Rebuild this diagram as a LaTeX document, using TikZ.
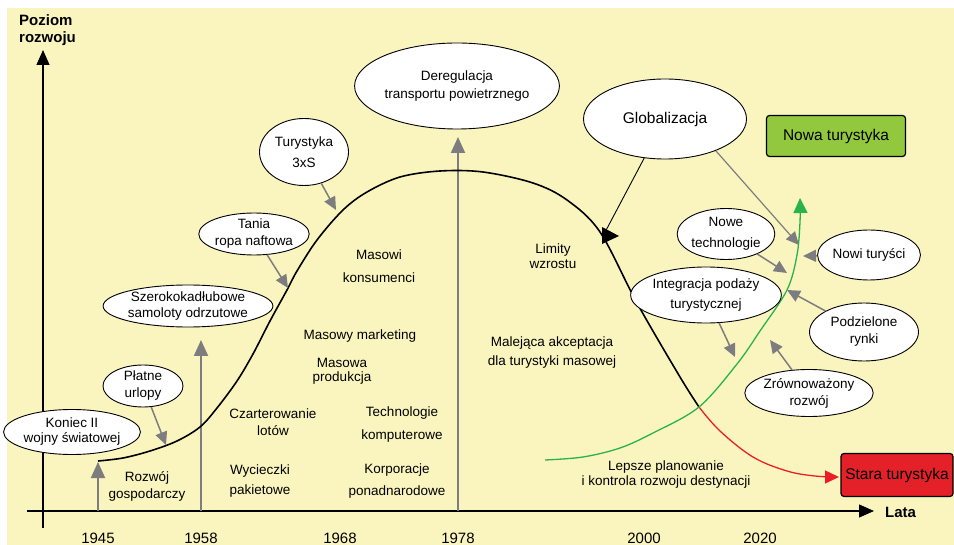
\documentclass[tikz,border=0pt]{standalone}
\usepackage{fontspec}
\setmainfont{Liberation Sans}
\usetikzlibrary{arrows.meta,shapes.geometric}

\definecolor{bgyellow}{RGB}{250,245,190}
\definecolor{arrowgray}{RGB}{125,125,128}
\definecolor{newgreen}{RGB}{146,200,62}
\definecolor{oldred}{RGB}{228,32,40}
\definecolor{curvegreen}{RGB}{40,180,75}
\definecolor{curvered}{RGB}{235,30,40}

\begin{document}
\begin{tikzpicture}[x=1pt,y=-1pt,
  axisline/.style={draw=black,line width=1.2pt,-{Triangle[length=15pt,width=13pt]}},
  yearup/.style={draw=arrowgray,line width=2pt,-{Triangle[length=16pt,width=14pt]}},
  infl/.style={draw=arrowgray,line width=1.5pt,-{Triangle[length=13pt,width=12pt]}},
  bubble/.style={ellipse,draw=black,line width=0.9pt,fill=white,inner sep=0pt,
    align=center,font=\fontsize{13.5}{17}\selectfont},
  lbl/.style={align=center,inner sep=0pt,font=\fontsize{13.5}{17}\selectfont},
  year/.style={anchor=base,inner sep=0pt,font=\fontsize{15}{18}\selectfont},
  axlabel/.style={inner sep=0pt,font=\fontsize{15}{17}\selectfont\bfseries},
  phase/.style={rectangle,rounded corners=3pt,draw=black,line width=1.2pt,
    inner sep=0pt,font=\fontsize{15.5}{18}\selectfont}
]
\useasboundingbox (0,0) rectangle (954,545);
\fill[bgyellow] (7,8) rectangle (954,545);

% axes
\coordinate (xo) at (27,511);
\coordinate (xe) at (874,511);
\coordinate (yo) at (43,528);
\coordinate (ye) at (43,50);
\draw[axisline] (xo) -- (xe);
\draw[axisline] (yo) -- (ye);
\node[axlabel,align=left,anchor=west] (ylab) at (19,30) {Poziom\\rozwoju};
\node[axlabel,anchor=west] (xlab) at (885,512) {Lata};

% years
\node[year] (y1945) at (98,543) {1945};
\node[year] (y1958) at (201,543) {1958};
\node[year] (y1968) at (340,543) {1968};
\node[year] (y1978) at (458,543) {1978};
\node[year] (y2000) at (644,543) {2000};
\node[year] (y2020) at (760,543) {2020};

% milestone arrows rising from the time axis
\coordinate (a45) at (98,511);  \coordinate (t45) at (98,462);
\coordinate (a58) at (201,511); \coordinate (t58) at (201,340);
\coordinate (a78) at (458,511); \coordinate (t78) at (458,137);
\draw[yearup] (a45) -- (t45);
\draw[yearup] (a58) -- (t58);
\draw[yearup] (a78) -- (t78);

% life cycle curve
\coordinate (cross) at (699,407);
\draw[black,line width=1.6pt] plot[smooth,tension=0.55] coordinates {
  (98,461) (123,458) (150,451) (177,441) (200,427) (217,408) (237,381)
  (253,354) (270,321) (287,290) (297,271) (317,240) (343,210) (367,192)
  (400,177) (440,171) (483,172) (533,183) (567,200) (600,232) (637,303)
  (680,377) (699,407)};
\coordinate (oldend) at (839,477);
\draw[curvered,line width=1.3pt,-{Triangle[length=14pt,width=13pt]}]
  plot[smooth,tension=0.6] coordinates {(699,407) (720,431) (753,457) (787,471) (815,476) (839,477)};
\coordinate (newend) at (800,197);
\draw[curvegreen,line width=1.3pt,-{Triangle[length=15pt,width=14pt]}]
  plot[smooth,tension=0.55] coordinates {(545,460) (583,457) (620,448) (653,433)
  (699,407) (737,364) (760,331) (787,290) (797,255) (800,222) (800,198)};

% phase boxes
\node[phase,fill=newgreen,minimum width=139pt,minimum height=41pt] (nowa) at (836,136) {Nowa turystyka};
\node[phase,fill=oldred,minimum width=112pt,minimum height=43pt] (stara) at (897,475) {Stara turystyka};

% factor bubbles
\node[bubble,minimum width=120pt,minimum height=45pt] (koniec) at (72,432) {Koniec II\\[-2pt]wojny światowej};
\node[bubble,minimum width=80pt,minimum height=42pt] (platne) at (143,386) {Płatne\\urlopy};
\node[bubble,minimum width=149pt,minimum height=42pt] (szeroko) at (188,306) {Szerokokadłubowe\\[-1pt]samoloty odrzutowe};
\node[bubble,minimum width=109pt,minimum height=42pt] (tania) at (254,234) {Tania\\ropa naftowa};
\node[bubble,minimum width=89pt,minimum height=67pt] (turyst) at (304,152) {Turystyka\\[4pt]3xS};
\node[bubble,minimum width=161pt,minimum height=86pt] (dereg) at (457,86) {Deregulacja\\[1pt]transportu powietrznego};
\node[bubble,minimum width=163pt,minimum height=80pt,font=\fontsize{15.5}{18}\selectfont] (glob) at (665,119) {Globalizacja};
\node[bubble,minimum width=94pt,minimum height=51pt] (nowetech) at (726,234) {Nowe\\[4pt]technologie};
\node[bubble,minimum width=86pt,minimum height=50pt] (nowi) at (869,255) {Nowi turyści};
\node[bubble,minimum width=133pt,minimum height=56pt] (integr) at (706,295) {Integracja podaży\\[3pt]turystycznej};
\node[bubble,minimum width=109pt,minimum height=58pt] (podziel) at (864,332) {Podzielone\\rynki};
\node[bubble,minimum width=120pt,minimum height=47pt] (zrown) at (809,393) {Zrównoważony\\rozwój};

% influences on the curves
\coordinate (tplatne) at (166,445);
\coordinate (ttania) at (288,288);
\coordinate (tturyst) at (336,210);
\draw[infl] (platne) -- (tplatne);
\draw[infl] (tania) -- (ttania);
\draw[infl] (turyst) -- (tturyst);

\coordinate (gtip) at (603,236);
\draw[black,line width=0.9pt] (glob.242) -- (gtip);
\fill[black] (602,227) -- (602,244) -- (619,236) -- cycle;

\coordinate (gnew) at (799,245);
\draw[infl,line width=1.2pt] (glob.-32) -- (gnew);
\coordinate (tnowetech) at (787,273);
\coordinate (tnowi) at (803,256);
\coordinate (tpodziel) at (787,290);
\coordinate (tintegr) at (735,357);
\coordinate (tzrown) at (770,340);
\draw[infl] (nowetech) -- (tnowetech);
\draw[infl] (nowi) -- (tnowi);
\draw[infl] (podziel) -- (tpodziel);
\draw[infl] (integr) -- (tintegr);
\draw[infl] (zrown) -- (tzrown);

% descriptive labels
\node[lbl] (rozwoj) at (147,486) {Rozwój\\gospodarczy};
\node[lbl] (wyciecz) at (260,481) {Wycieczki\\[3pt]pakietowe};
\node[lbl] (czarter) at (273,422) {Czarterowanie\\lotów};
\node[lbl] (masowi) at (379,266) {Masowi\\[6pt]konsumenci};
\node[lbl] (marketing) at (360,336) {Masowy marketing};
\node[lbl,font=\fontsize{13.5}{14}\selectfont] (produkcja) at (342,371) {Masowa\\produkcja};
\node[lbl] (technol) at (402,425) {Technologie\\[6pt]komputerowe};
\node[lbl] (korpor) at (397,481) {Korporacje\\[5pt]ponadnarodowe};
\node[lbl,font=\fontsize{13.5}{15}\selectfont] (limity) at (553,256) {Limity\\wzrostu};
\node[lbl] (malejaca) at (552,353) {Malejąca akceptacja\\[2pt]dla turystyki masowej};
\node[lbl,font=\fontsize{13.5}{15}\selectfont] (lepsze) at (666,475) {Lepsze planowanie\\i kontrola rozwoju destynacji};
\end{tikzpicture}
\end{document}
